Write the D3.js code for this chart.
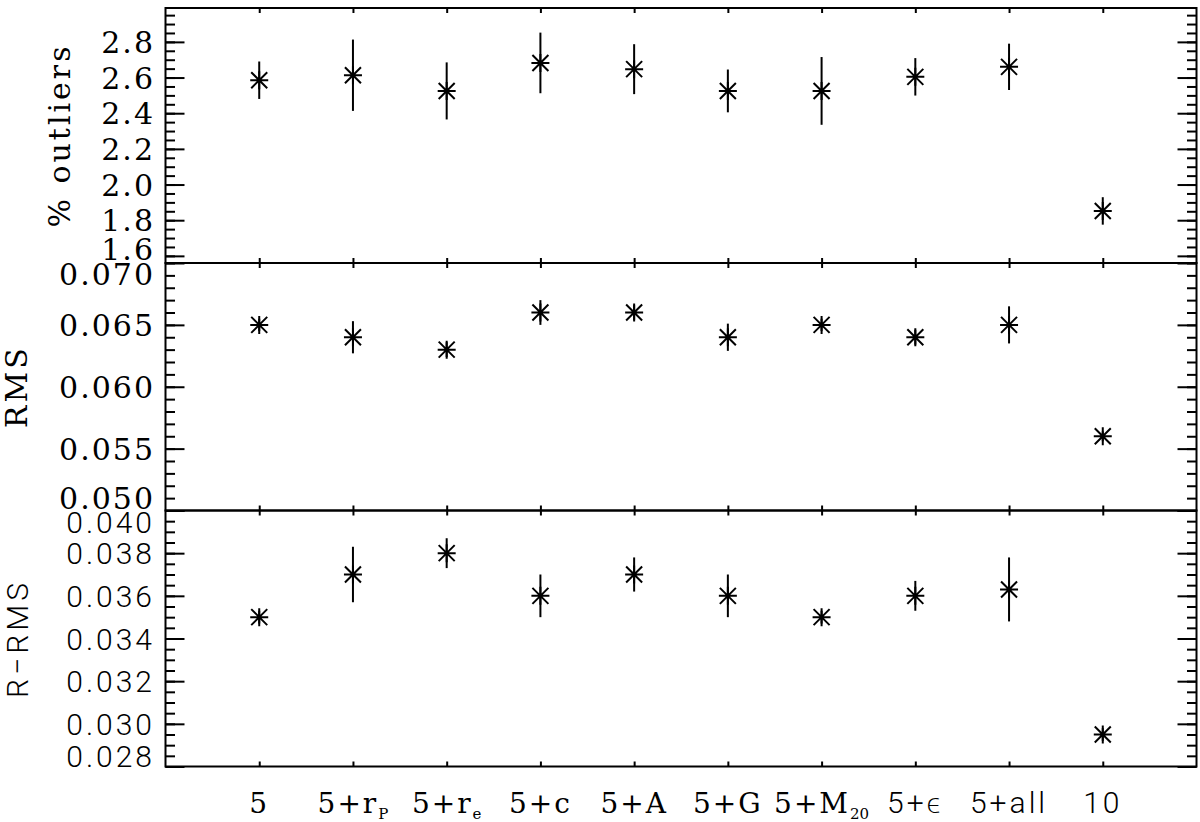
<!DOCTYPE html>
<html>
<head>
<meta charset="utf-8">
<script src="https://cdn.jsdelivr.net/npm/d3@7"></script>
<style>
  body { margin: 0; background: #fff; }
  svg { display: block; }
</style>
</head>
<body>
<div id="chart"></div>
<script>
// chart data
const categories = [1, 2, 3, 4, 5, 6, 7, 8, 9, 10];
const xLabels = ["5", "5+r", "5+r", "5+c", "5+A", "5+G", "5+M", "5+\u03F5", "5+all", "10"];
const xLabelSubs = ["", "P", "e", "", "", "", "20", "", "", ""];

const outliers    = [2.585, 2.613, 2.525, 2.682, 2.647, 2.525, 2.525, 2.604, 2.660, 1.852];
const outliersErr = [0.105, 0.200, 0.160, 0.170, 0.140, 0.120, 0.190, 0.105, 0.130, 0.077];

const rms    = [0.065, 0.064, 0.063, 0.066, 0.066, 0.064, 0.065, 0.064, 0.065, 0.056];
const rmsErr = [0.0005, 0.0013, 0.0006, 0.0010, 0.0006, 0.0011, 0.0005, 0.0006, 0.0015, 0.0004];

const rrms    = [0.0350, 0.0370, 0.0380, 0.0360, 0.0370, 0.0360, 0.0350, 0.0360, 0.0363, 0.0295];
const rrmsErr = [0.0003, 0.0013, 0.0007, 0.0010, 0.0008, 0.0010, 0.0003, 0.0007, 0.0015, 0.0003];

const outlierTicks = [1.6, 1.8, 2.0, 2.2, 2.4, 2.6, 2.8];
const rmsTicks = [0.050, 0.055, 0.060, 0.065, 0.070];
const rrmsTicks = [0.028, 0.030, 0.032, 0.034, 0.036, 0.038, 0.040];

// layout
const width = 1200;
const height = 822;
const plotLeft = 165.5;
const plotRight = 1196.5;
const firstThinLabel = 7;   // labels from here on use the thin font
const serif = "'DejaVu Serif', serif";
const thin = "Roboto, Lato, sans-serif";

const svg = d3.select("#chart")
  .append("svg")
  .attr("width", width)
  .attr("height", height)
  .attr("viewBox", [0, 0, width, height]);

svg.append("rect").attr("width", width).attr("height", height).attr("fill", "#fff");

const xScale = d3.scaleLinear()
  .domain([0, 11])
  .range([plotLeft, plotRight]);

const panels = [
  {values: outliers, errs: outliersErr, domain: [1.56, 2.99], ticks: outlierTicks, minorStep: 0.05,
   fmt: d3.format(".1f"), title: "% outliers", titleX: 70, font: serif, top: 8, bottom: 263, lift: 3},
  {values: rms, errs: rmsErr, domain: [0.050, 0.070], ticks: rmsTicks, minorStep: 0.001,
   fmt: d3.format(".3f"), title: "RMS", titleX: 27, font: serif, top: 263, bottom: 510.5, lift: 2},
  {values: rrms, errs: rrmsErr, domain: [0.028, 0.040], ticks: rrmsTicks, minorStep: 0.0005,
   fmt: d3.format(".3f"), title: "R\u2212RMS", titleX: 28, font: thin, top: 510.5, bottom: 766.5, lift: 0}
];

// minor tick values inside the domain
function minorTicks(domain, step) {
  const k0 = Math.ceil(domain[0] / step - 1e-6);
  const k1 = Math.floor(domain[1] / step + 1e-6);
  return d3.range(k0, k1 + 1).map(k => k * step);
}

// IDL style asterisk
const star = "M-9,0H9M0,-9V9M-8,-8L8,8M-8,8L8,-8";

panels.forEach(p => {
  const yScale = d3.scaleLinear()
    .domain(p.domain)
    .range([p.bottom, p.top]);

  const g = svg.append("g");

  // y ticks, left and right, pointing inward
  const minors = minorTicks(p.domain, p.minorStep);
  [[d3.axisLeft, plotLeft], [d3.axisRight, plotRight]].forEach(([axisFn, xPos]) => {
    g.append("g")
      .attr("transform", `translate(${xPos},0)`)
      .call(axisFn(yScale).tickValues(minors).tickSize(-9.5).tickFormat(""))
      .call(a => a.select(".domain").remove())
      .selectAll("line").attr("stroke-width", 2);
    g.append("g")
      .attr("transform", `translate(${xPos},0)`)
      .call(axisFn(yScale).tickValues(p.ticks).tickSize(-19).tickFormat(""))
      .call(a => a.select(".domain").remove())
      .selectAll("line").attr("stroke-width", 2);
  });

  // x ticks on top and bottom of every panel
  g.append("g")
    .attr("transform", `translate(0,${p.bottom})`)
    .call(d3.axisBottom(xScale).tickValues(categories).tickSize(-5).tickFormat(""))
    .call(a => a.select(".domain").remove())
    .selectAll("line").attr("stroke-width", 2);
  g.append("g")
    .attr("transform", `translate(0,${p.top})`)
    .call(d3.axisTop(xScale).tickValues(categories).tickSize(-5).tickFormat(""))
    .call(a => a.select(".domain").remove())
    .selectAll("line").attr("stroke-width", 2);

  // frame
  g.append("rect")
    .attr("x", plotLeft)
    .attr("y", p.top)
    .attr("width", plotRight - plotLeft)
    .attr("height", p.bottom - p.top)
    .attr("fill", "none")
    .attr("stroke", "#000")
    .attr("stroke-width", 2);

  // tick labels, kept inside the panel height like the original
  const half = 11;
  g.selectAll(".ylab")
    .data(p.ticks)
    .enter()
    .append("text")
      .attr("class", "ylab")
      .attr("x", 155)
      .attr("y", d => Math.max(p.top + half, Math.min(p.bottom - half - p.lift, yScale(d))) + half)
      .attr("text-anchor", "end")
      .attr("font-family", p.font)
      .attr("font-weight", p.font === thin ? 300 : 400)
      .attr("font-size", 30)
      .attr("letter-spacing", p.font === thin ? 3 : 2)
      .attr("fill", "#000")
      .text(d => p.fmt(d));

  // axis title
  g.append("text")
    .attr("transform", `translate(${p.titleX},${(p.top + p.bottom) / 2}) rotate(-90)`)
    .attr("text-anchor", "middle")
    .attr("font-family", p.font)
    .attr("font-weight", p.font === thin ? 300 : 400)
    .attr("font-size", 30)
    .attr("letter-spacing", p.font === thin ? 4 : 3)
    .attr("fill", "#000")
    .text(p.title);

  // error bars
  g.selectAll(".err")
    .data(p.values)
    .enter()
    .append("line")
      .attr("class", "err")
      .attr("x1", (d, i) => xScale(categories[i]))
      .attr("x2", (d, i) => xScale(categories[i]))
      .attr("y1", (d, i) => yScale(d - p.errs[i]))
      .attr("y2", (d, i) => yScale(d + p.errs[i]))
      .attr("stroke", "#000")
      .attr("stroke-width", 2);

  // points
  g.selectAll(".pt")
    .data(p.values)
    .enter()
    .append("path")
      .attr("class", "pt")
      .attr("d", star)
      .attr("transform", (d, i) => `translate(${xScale(categories[i])},${yScale(d)})`)
      .attr("fill", "none")
      .attr("stroke", "#000")
      .attr("stroke-width", 2);
});

// category labels under the bottom panel
const xLab = svg.selectAll(".xlab")
  .data(xLabels)
  .enter()
  .append("text")
    .attr("class", "xlab")
    .attr("x", (d, i) => xScale(categories[i]))
    .attr("y", 813)
    .attr("text-anchor", "middle")
    .attr("font-family", (d, i) => i >= firstThinLabel ? thin : serif)
    .attr("font-weight", (d, i) => i >= firstThinLabel ? 300 : 400)
    .attr("font-size", (d, i) => i >= firstThinLabel ? 30 : 28)
    .attr("letter-spacing", (d, i) => i >= firstThinLabel ? 3 : 2)
    .attr("fill", "#000");

xLab.append("tspan").text(d => d);
xLab.each(function(d, i) {
  if (xLabelSubs[i] === "") return;
  d3.select(this).append("tspan")
    .attr("font-size", 15)
    .attr("dy", 6)
    .attr("letter-spacing", 0)
    .text(xLabelSubs[i]);
});
</script>
</body>
</html>
